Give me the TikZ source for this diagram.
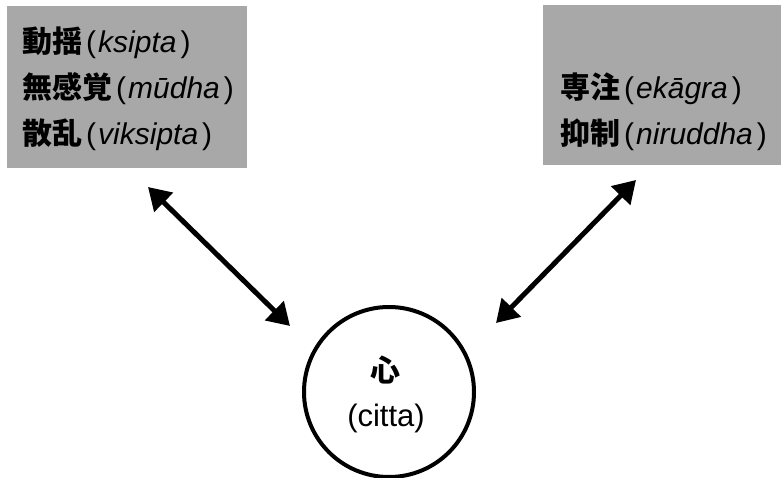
\documentclass[tikz,border=0pt]{standalone}
\usepackage{fontspec}
\setmainfont{Liberation Sans}
\newfontfamily\jp{Noto Sans CJK JP}
\newfontfamily\lat{Liberation Sans}
\usetikzlibrary{arrows.meta}
\definecolor{boxgray}{RGB}{168,168,168}
\tikzset{
  graybox/.style={fill=boxgray, draw=none, inner sep=0pt, anchor=north west},
  lbl/.style={anchor=base west, inner sep=0pt, font=\fontsize{30}{36}\selectfont},
  ctext/.style={anchor=base, inner sep=0pt},
  link/.style={line width=5pt, {Triangle[length=22pt,width=26pt]}-{Triangle[length=22pt,width=26pt]}},
  mind/.style={circle, draw=black, line width=4pt, minimum size=170pt, inner sep=0pt}
}
\newcommand{\term}[2]{{\jp\bfseries #1}\hspace{4pt}(\hspace{2pt}\textit{#2}\hspace{4pt})}
\begin{document}
\begin{tikzpicture}[x=1pt,y=-1pt]
\useasboundingbox (0,0) rectangle (781,478);
\fill[white] (0,0) rectangle (781,478);
% boxes
\node[graybox, minimum width=240pt, minimum height=162pt] (lbox) at (7,6) {};
\node[graybox, minimum width=238pt, minimum height=160pt] (rbox) at (543,5) {};
% left texts
\node[lbl] (l1) at (22,53) {\term{動揺}{ksipta}};
\node[lbl] (l2) at (22,99) {\term{無感覚}{mūdha}};
\node[lbl] (l3) at (22,145) {\term{散乱}{viksipta}};
% right texts
\node[lbl] (r1) at (560,99) {\term{専注}{ekāgra}};
\node[lbl] (r2) at (560,145) {\term{抑制}{niruddha}};
% circle
\node[mind] (citta) at (389,392) {};
\node[ctext, font=\jp\fontsize{30}{34}\selectfont\bfseries] (c1) at (385,381) {心};
\node[ctext, font=\lat\fontsize{31}{36}\selectfont] (c2) at (386,426) {(citta)};
% arrows
\coordinate (a1) at (148,187);
\coordinate (a2) at (290,326);
\coordinate (b1) at (636,180);
\coordinate (b2) at (496,323);
\draw[link] (a1) -- (a2);
\draw[link] (b1) -- (b2);
\end{tikzpicture}
\end{document}
